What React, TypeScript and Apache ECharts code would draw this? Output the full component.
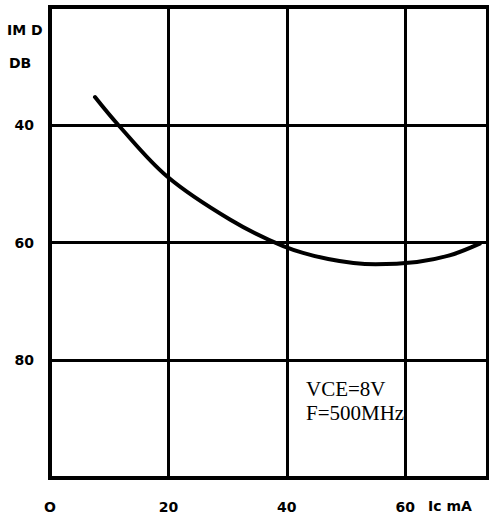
import React, { useEffect, useRef } from "react";
import * as echarts from "echarts";

const xTicks = [0, 20, 40, 60];
const yTicks = [40, 60, 80];
const curveX = [7.6, 11.5, 19.8, 30.4, 39.4, 47, 55, 62, 67.5, 72.6];
const curveY = [35.3, 40, 48.8, 56.1, 60.6, 62.8, 63.7, 63.3, 62.2, 60.2];
const yTitle = ["IM D", "DB"];
const xTitle = "Ic mA";
const notes = ["VCE=8V", "F=500MHz"];

export default function App() {
  const ref = useRef<HTMLDivElement>(null);
  useEffect(() => {
    if (!ref.current) return;
    const chart = echarts.init(ref.current, null, { renderer: "svg" });
    const labelFont = { fontFamily: "DejaVu Sans", fontWeight: "bold" as const, fontSize: 14, color: "#000" };
    chart.setOption({
      animation: false,
      backgroundColor: "#fff",
      grid: { left: 50, top: 7, right: 1, bottom: 38, show: true, borderColor: "#000", borderWidth: 4 },
      xAxis: {
        type: "value",
        min: 0,
        max: 74,
        interval: 20,
        axisLine: { show: false },
        axisTick: { show: false },
        splitLine: { show: true, lineStyle: { color: "#000", width: 3 } },
        axisLabel: {
          ...labelFont,
          margin: 22,
          showMaxLabel: false,
          formatter: (v: number) => (v === 0 ? "O" : xTicks.includes(v) ? String(v) : ""),
        },
      },
      yAxis: {
        type: "value",
        min: 20,
        max: 100,
        interval: 20,
        inverse: true,
        axisLine: { show: false },
        axisTick: { show: false },
        splitLine: { show: true, lineStyle: { color: "#000", width: 3 } },
        axisLabel: {
          ...labelFont,
          margin: 16,
          formatter: (v: number) => (yTicks.includes(v) ? String(v) : ""),
        },
      },
      series: [
        {
          type: "line",
          smooth: 0.35,
          symbol: "none",
          lineStyle: { color: "#000", width: 4, cap: "round" },
          data: curveX.map((x, i) => [x, curveY[i]]),
          z: 5,
        },
      ],
      graphic: [
        { type: "text", left: 7, top: 23, style: { text: yTitle[0], font: "bold 14px 'DejaVu Sans'", fill: "#000" } },
        { type: "text", left: 9, top: 56, style: { text: yTitle[1], font: "bold 14px 'DejaVu Sans'", fill: "#000" } },
        { type: "text", left: 428, top: 499, style: { text: xTitle, font: "bold 14px 'DejaVu Sans'", fill: "#000" } },
        { type: "text", left: 306, top: 378, style: { text: notes[0], font: "21px 'Liberation Serif'", fill: "#000" } },
        { type: "text", left: 306, top: 402, style: { text: notes[1], font: "21px 'Liberation Serif'", fill: "#000" } },
      ],
    });
    return () => chart.dispose();
  }, []);
  return <div ref={ref} style={{ position: "fixed", left: 0, top: 0, width: 489, height: 516, background: "#fff" }} />;
}
